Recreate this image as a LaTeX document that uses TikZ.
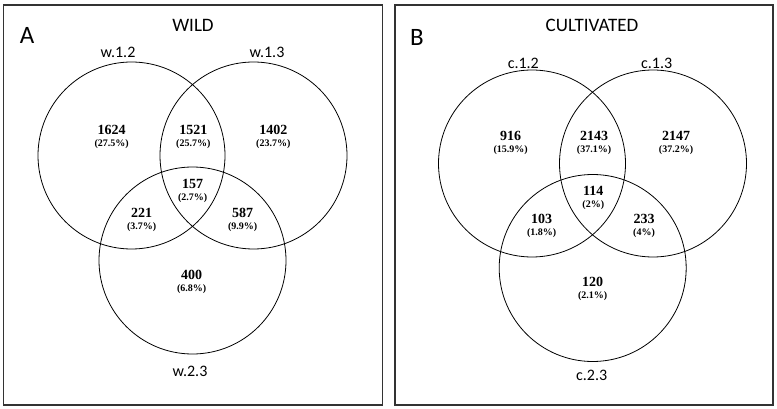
\documentclass[tikz,border=0pt]{standalone}
\usepackage{fontspec}
\setmainfont{Liberation Serif}
\newfontfamily\labelfont{Carlito}
\usepackage{tikz}
\usetikzlibrary{positioning}
\newcommand{\cnt}[2]{#1\\{\fontsize{10}{12}\selectfont (#2)}}

\begin{document}
\begin{tikzpicture}[x=1pt,y=-1pt,
  panelbox/.style={
    draw=black!80,
    line width=1.1pt
  },
  setring/.style={
    circle,
    draw,
    line width=0.8pt,
    inner sep=0pt,
    minimum size=187pt
  },
  count/.style={
    align=center,
    inner sep=0pt,
    font=\fontsize{14}{12}\selectfont\bfseries
  },
  setname/.style={font=\labelfont\fontsize{16}{16}\selectfont},
  title/.style={font=\labelfont\fontsize{19}{19}\selectfont},
  letter/.style={font=\labelfont\fontsize{25}{25}\selectfont}
]
\useasboundingbox (0,0) rectangle (777,409);
% Panel frames.
\draw[panelbox] (3.5,5) rectangle (382.5,405);
\draw[panelbox] (395,5) rectangle (773,405);
% A: wild
\node[letter] (A) at (27,35) {A};
\node[title] (wild) at (193,25) {WILD};
\node[setring] (w12) at (131.5,155.5) {};
\node[setring] (w13) at (253.5,155.5) {};
\node[setring] (w23) at (192.5,260.5) {};
\node[setname] (lw12) at (118,52) {w.1.2};
\node[setname] (lw13) at (267,52) {w.1.3};
\node[setname] (lw23) at (190,371) {w.2.3};
\node[count] (a1) at (111.7,137.3) {\cnt{1624}{27.5\%}};
\node[count] (a2) at (193.3,137) {\cnt{1521}{25.7\%}};
\node[count] (a3) at (273.3,137) {\cnt{1402}{23.7\%}};
\node[count] (a4) at (192.7,191.2) {\cnt{157}{2.7\%}};
\node[count] (a5) at (141.7,219.5) {\cnt{221}{3.7\%}};
\node[count] (a6) at (242.7,219.5) {\cnt{587}{9.9\%}};
\node[count] (a7) at (191.7,281.8) {\cnt{400}{6.8\%}};
% B: cultivated
\node[letter] (B) at (417,37) {B};
\node[title] (cult) at (592,25) {CULTIVATED};
\node[setring] (c12) at (532,163.5) {};
\node[setring] (c13) at (653,163.5) {};
\node[setring] (c23) at (592.7,268) {};
\node[setname] (lc12) at (523.3,63) {c.1.2};
\node[setname] (lc13) at (656.7,63) {c.1.3};
\node[setname] (lc23) at (591.7,375) {c.2.3};
\node[count] (b1) at (510.7,143) {\cnt{916}{15.9\%}};
\node[count] (b2) at (594,143) {\cnt{2143}{37.1\%}};
\node[count] (b3) at (676,143) {\cnt{2147}{37.2\%}};
\node[count] (b4) at (593.3,197.5) {\cnt{114}{2\%}};
\node[count] (b5) at (541.7,225.5) {\cnt{103}{1.8\%}};
\node[count] (b6) at (644,225.5) {\cnt{233}{4\%}};
\node[count] (b7) at (592.7,289) {\cnt{120}{2.1\%}};
\end{tikzpicture}
\end{document}
